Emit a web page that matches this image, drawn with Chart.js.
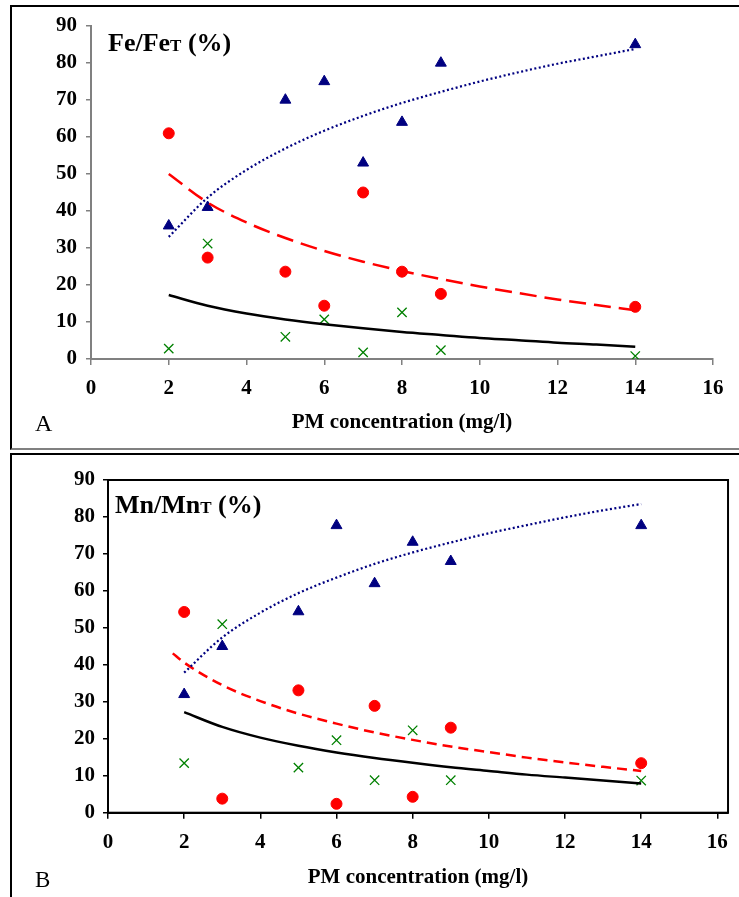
<!DOCTYPE html>
<html>
<head>
<meta charset="utf-8">
<script src="https://cdn.jsdelivr.net/npm/chart.js@4.4.1/dist/chart.umd.min.js"></script>
<style>
  body { margin: 0; background: #fff; width: 739px; height: 897px; overflow: hidden; position: relative; font-family: "Liberation Serif", "Times New Roman", serif; }
  .frame { position: absolute; box-sizing: border-box; }
  #frameA { left: 10px; top: 5px; width: 740px; height: 445px; border-left: 2px solid #000; border-top: 2px solid #000; border-bottom: 2px solid #808080; }
  #frameB { left: 10px; top: 453px; width: 740px; height: 460px; border-left: 2px solid #000; border-top: 2px solid #000; }
  canvas { position: absolute; left: 0; }
  #chartA { top: 0; }
  #chartB { top: 450px; }
  .title { position: absolute; font-weight: bold; font-size: 26px; line-height: 26px; white-space: nowrap; color: #000; }
  .title .sub { font-size: 17px; }
  .panel { position: absolute; font-size: 24px; line-height: 24px; color: #000; }
</style>
</head>
<body>
<div class="frame" id="frameA"></div>
<div class="frame" id="frameB"></div>
<canvas id="chartA" width="739" height="450"></canvas>
<canvas id="chartB" width="739" height="447"></canvas>
<div class="title" style="left:108px; top:30px;">Fe/Fe<span class="sub">T</span> (%)</div>
<div class="title" style="left:115px; top:492px;">Mn/Mn<span class="sub">T</span> (%)</div>
<div class="panel" style="left:35px; top:411px;">A</div>
<div class="panel" style="left:35px; top:868px; font-size:23px;">B</div>
<script>
/* ================= DATA ================= */
const pmConc = [2, 3, 5, 6, 7, 8, 9, 14];

// panel A: Fe/FeT (%)
const feTriangle = [36, 41, 70, 75, 53, 64, 80, 85];
const feCircle = [61, 27.4, 23.6, 14.4, 45, 23.6, 17.6, 14.1];
const feCross = [2.8, 31.2, 6, 10.7, 1.8, 12.6, 2.4, 0.8];

// panel B: Mn/MnT (%)
const mnTriangle = [32, 45, 54.4, 77.7, 62, 73.2, 68, 77.7];
const mnCircle = [54.3, 3.8, 33.1, 2.4, 28.9, 4.3, 23, 13.4];
const mnCross = [13.4, 51, 12.2, 19.6, 8.8, 22.3, 8.8, 8.7];

// trend curves
const trendX = [2, 3, 4, 5, 6, 7, 8, 9, 10, 11, 12, 13, 14];
const trendXLong = [1.7, 2, 3, 4, 5, 6, 7, 8, 9, 10, 11, 12, 13, 14];
const feTrendTriangle = [33.0, 43.6, 51.1, 56.9, 61.7, 65.7, 69.2, 72.2, 75.0, 77.5, 79.8, 81.8, 83.8];
const feTrendCircle = [50.0, 42.3, 36.9, 32.7, 29.2, 26.3, 23.8, 21.6, 19.6, 17.8, 16.1, 14.6, 13.2];
const feTrendCross = [17.3, 14.4, 12.3, 10.7, 9.4, 8.3, 7.3, 6.5, 5.7, 5.1, 4.4, 3.9, 3.3];
const mnTrendTriangle = [37.9, 47.4, 54.1, 59.4, 63.6, 67.3, 70.4, 73.1, 75.6, 77.8, 79.9, 81.8, 83.5];
const mnTrendCircle = [43.1, 40.6, 34.5, 30.2, 26.8, 24.1, 21.7, 19.7, 17.9, 16.4, 14.9, 13.6, 12.4, 11.3];
const mnTrendCross = [27.2, 23.2, 20.3, 18.1, 16.3, 14.8, 13.5, 12.3, 11.3, 10.3, 9.5, 8.7, 7.9];

const xTicks = [0, 2, 4, 6, 8, 10, 12, 14, 16];
const yTicks = [0, 10, 20, 30, 40, 50, 60, 70, 80, 90];

const NAVY = '#000080';
const RED = '#ff0000';
const GREEN = '#008000';

/* ================= HELPERS ================= */
function points(xs, ys) {
    return xs.map((x, i) => ({ x: x, y: ys[i] }));
}

function markerSet(ys, style, color, radius) {
    return {
        data: points(pmConc, ys),
        showLine: false,
        pointStyle: style,
        pointRadius: radius,
        pointBackgroundColor: color,
        pointBorderColor: color,
        pointBorderWidth: style === 'crossRot' ? 1.3 : 1
    };
}

function trendSet(xs, ys, color, dash, width) {
    return {
        data: points(xs, ys),
        showLine: true,
        pointRadius: 0,
        borderColor: color,
        borderWidth: width,
        borderDash: dash,
        cubicInterpolationMode: 'monotone',
        fill: false
    };
}

const font = { family: '"Liberation Serif", "Times New Roman", serif', weight: 'bold', size: 21 };

// draws the full box round the plot area (panel B)
const plotBox = {
    id: 'plotBox',
    beforeDatasetsDraw(chart) {
        const a = chart.chartArea;
        const ctx = chart.ctx;
        ctx.save();
        ctx.strokeStyle = '#000';
        ctx.lineWidth = 2;
        ctx.strokeRect(a.left, a.top, a.right - a.left, a.bottom - a.top);
        ctx.restore();
    }
};

function makeChart(id, cfg) {
    const axisColor = cfg.axisColor;
    return new Chart(document.getElementById(id), {
        type: 'scatter',
        data: { datasets: cfg.datasets },
        options: {
            responsive: false,
            animation: false,
            events: [],
            layout: { padding: { left: 0, top: cfg.padTop, right: cfg.padRight, bottom: 0 } },
            plugins: { legend: { display: false }, tooltip: { enabled: false } },
            scales: {
                x: {
                    type: 'linear',
                    min: 0,
                    max: cfg.xMax,
                    afterBuildTicks: s => { s.ticks = xTicks.map(v => ({ value: v })); },
                    afterFit: s => { s.height = cfg.xHeight; },
                    ticks: { color: '#000', font: font, padding: 11, maxRotation: 0 },
                    grid: { drawOnChartArea: false, tickLength: 6, color: axisColor, lineWidth: 1.5 },
                    border: { color: axisColor, width: 2 },
                    title: {
                        display: true,
                        text: 'PM concentration (mg/l)',
                        color: '#000',
                        font: font,
                        padding: { top: 0, bottom: cfg.titlePad }
                    }
                },
                y: {
                    type: 'linear',
                    min: 0,
                    max: 90,
                    afterBuildTicks: s => { s.ticks = yTicks.map(v => ({ value: v })); },
                    afterFit: s => { s.width = cfg.yWidth; },
                    ticks: { color: '#000', font: font, padding: cfg.yPad },
                    grid: { drawOnChartArea: false, tickLength: 5, color: axisColor, lineWidth: 1.5 },
                    border: { color: axisColor, width: 2 }
                }
            }
        },
        plugins: cfg.box ? [plotBox] : []
    });
}

/* ================= PANEL A ================= */
makeChart('chartA', {
    axisColor: '#808080',
    xMax: 16,
    padTop: 26,
    padRight: 26,
    xHeight: 91,
    yWidth: 91,
    yPad: 9,
    titlePad: 15,
    box: false,
    datasets: [
        trendSet(trendX, feTrendTriangle, NAVY, [2, 2.5], 2.25),
        trendSet(trendX, feTrendCircle, RED, [17, 8], 2.5),
        trendSet(trendX, feTrendCross, '#000', [], 2.5),
        markerSet(feTriangle, 'triangle', NAVY, 6.3),
        markerSet(feCircle, 'circle', RED, 5.5),
        markerSet(feCross, 'crossRot', GREEN, 6.6)
    ]
});

/* ================= PANEL B ================= */
makeChart('chartB', {
    axisColor: '#000',
    xMax: 16.28,
    padTop: 30,
    padRight: 2,
    xHeight: 84.3,
    yWidth: 108,
    yPad: 8,
    titlePad: 7,
    box: true,
    datasets: [
        trendSet(trendX, mnTrendTriangle, NAVY, [2, 2.5], 2.25),
        trendSet(trendXLong, mnTrendCircle, RED, [10, 6], 2.5),
        trendSet(trendX, mnTrendCross, '#000', [], 2.5),
        markerSet(mnTriangle, 'triangle', NAVY, 6.3),
        markerSet(mnCircle, 'circle', RED, 5.5),
        markerSet(mnCross, 'crossRot', GREEN, 6.6)
    ]
});
</script>
</body>
</html>
